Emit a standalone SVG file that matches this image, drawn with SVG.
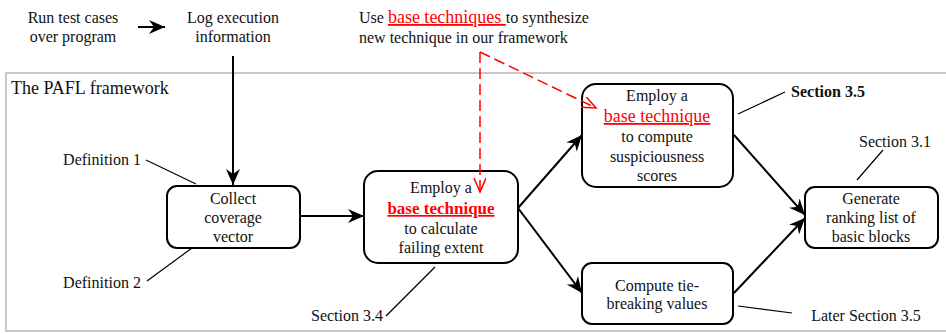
<svg xmlns="http://www.w3.org/2000/svg" width="946" height="334" viewBox="0 0 946 334">
<defs>
<marker id="ah" markerUnits="userSpaceOnUse" markerWidth="20" markerHeight="16" refX="16" refY="7" orient="auto">
<path d="M0,0 L16,7 L0,14 L5,7 z" fill="#000"/>
</marker>
<marker id="rh" markerUnits="userSpaceOnUse" markerWidth="18" markerHeight="14" refX="14" refY="6" orient="auto">
<path d="M0,0 L14,6 L0,12" fill="none" stroke="#f00" stroke-width="1.5"/>
</marker>
</defs>
<style>
text{font-family:"Liberation Serif","Times New Roman",serif;font-size:16px;fill:#111;text-anchor:middle}
.l{text-anchor:start}
.r{fill:#f00;text-decoration:underline;font-size:18px}
.b{font-weight:bold;font-size:17px}
.s{font-weight:bold}
.box{fill:#fff;stroke:#000;stroke-width:2}
.flow{stroke:#000;stroke-width:2;fill:none;marker-end:url(#ah)}
.ann{stroke:#000;stroke-width:1.2;fill:none}
.red{stroke:#f00;stroke-width:1.5;stroke-dasharray:11,5;fill:none;marker-end:url(#rh)}
</style>
<rect x="6" y="73" width="945" height="258" fill="#fff" stroke="#c8c8c8" stroke-width="2"/>
<text class="l" x="11" y="94" style="font-size:18px">The PAFL framework</text>

<g id="run">
<text x="73" y="23">Run test cases</text>
<text x="73" y="42">over program</text>
</g>
<g id="log">
<text x="233" y="23">Log execution</text>
<text x="233" y="42">information</text>
</g>
<g id="use">
<text class="l" x="359" y="23">Use <tspan class="r">base techniques </tspan>to synthesize</text>
<text class="l" x="359" y="43">new technique in our framework</text>
</g>
<g id="collect">
<rect class="box" x="167" y="186" width="133" height="62" rx="10"/>
<text x="233" y="204">Collect</text>
<text x="233" y="223">coverage</text>
<text x="233" y="242">vector</text>
</g>
<g id="employ1">
<rect class="box" x="364" y="171" width="154" height="92" rx="14"/>
<text x="441" y="193">Employ a</text>
<text x="441" y="214" class="r b">base technique</text>
<text x="441" y="234">to calculate</text>
<text x="441" y="253">failing extent</text>
</g>
<g id="employ2">
<rect class="box" x="582" y="84" width="151" height="103" rx="14"/>
<text x="657" y="101">Employ a</text>
<text x="657" y="122" class="r">base technique</text>
<text x="657" y="142">to compute</text>
<text x="657" y="162">suspiciousness</text>
<text x="657" y="181">scores</text>
</g>
<g id="tie">
<rect class="box" x="582" y="263" width="151" height="61" rx="10"/>
<text x="657" y="291">Compute tie-</text>
<text x="657" y="309">breaking values</text>
</g>
<g id="generate">
<rect class="box" x="805" y="187" width="133" height="61" rx="10"/>
<text x="871" y="204">Generate</text>
<text x="871" y="223">ranking list of</text>
<text x="871" y="242">basic blocks</text>
</g>
<g id="labels">
<text x="102" y="165">Definition 1</text>
<text x="102" y="288">Definition 2</text>
<text x="347" y="321">Section 3.4</text>
<text x="828" y="97" class="s">Section 3.5</text>
<text x="895" y="147">Section 3.1</text>
<text x="866" y="321">Later Section 3.5</text>
</g>

<g id="connectors">
<line class="flow" x1="138" y1="27" x2="165" y2="27"/>
<line class="flow" x1="233" y1="56" x2="233" y2="185"/>
<line class="flow" x1="300" y1="216" x2="364" y2="216"/>
<line class="flow" x1="518" y1="208" x2="582" y2="135"/>
<line class="flow" x1="518" y1="208" x2="582" y2="293"/>
<line class="flow" x1="734" y1="135" x2="805" y2="215"/>
<line class="flow" x1="734" y1="293" x2="805" y2="218"/>
<polyline class="red" points="480,52 480,192"/>
<polyline class="red" points="480,52 596,108"/>
<line class="ann" x1="146" y1="160" x2="196" y2="184"/>
<line class="ann" x1="147" y1="281" x2="192" y2="248"/>
<line class="ann" x1="386" y1="316" x2="435" y2="267"/>
<line class="ann" x1="738" y1="114" x2="785" y2="92"/>
<line class="ann" x1="857" y1="180" x2="883" y2="150"/>
<line class="ann" x1="738" y1="306" x2="792" y2="313"/>
</g>
</svg>
